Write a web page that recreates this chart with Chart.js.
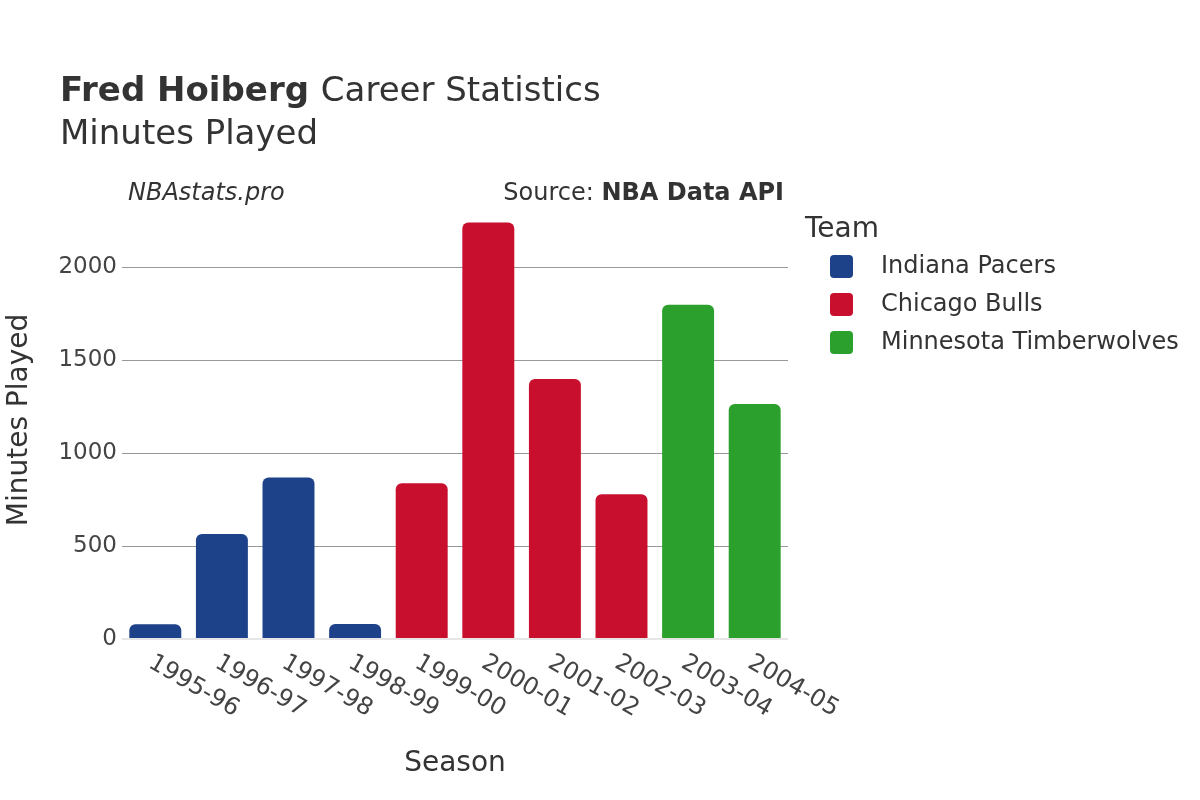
<!DOCTYPE html>
<html>
<head>
<meta charset="utf-8">
<script src="https://cdn.jsdelivr.net/npm/chart.js@4"></script>
<style>
  html, body { margin: 0; padding: 0; background: #fff; }
  #wrap { width: 1200px; height: 800px; }
</style>
</head>
<body>
<div id="wrap"><canvas id="myChart" width="1200" height="800"></canvas></div>
<script>
// Dados
var seasons = ['1995-96', '1996-97', '1997-98', '1998-99', '1999-00',
               '2000-01', '2001-02', '2002-03', '2003-04', '2004-05'];
var teams = ['Indiana Pacers', 'Chicago Bulls', 'Minnesota Timberwolves'];
var pacers = [79, 565, 869, 81, null, null, null, null, null, null];
var bulls = [null, null, null, null, 837, 2240, 1398, 778, null, null];
var wolves = [null, null, null, null, null, null, null, null, 1797, 1263];
var yTicks = [0, 500, 1000, 1500, 2000];

var colors = ['#1d428a', '#c8102e', '#2ca02c'];
var font = '"DejaVu Sans", sans-serif';
var textColor = '#444';

// Plugin para textos do cabeçalho, legenda e rótulos do eixo x
var extras = {
    id: 'extras',
    afterDraw: function (chart) {
        var c = chart.ctx;
        var xs = chart.scales.x;
        c.save();
        c.fillStyle = '#333';
        c.textBaseline = 'alphabetic';
        c.textAlign = 'left';
        c.font = 'bold 34px ' + font;
        c.fillText('Fred Hoiberg', 60, 101);
        var w = c.measureText('Fred Hoiberg ').width;
        c.font = '34px ' + font;
        c.fillText('Career Statistics', 60 + w, 101);
        c.fillText('Minutes Played', 60, 144);

        c.fillStyle = '#333';
        c.font = 'italic 24px ' + font;
        c.fillText('NBAstats.pro', 128, 200);
        c.textAlign = 'right';
        c.font = 'bold 24px ' + font;
        c.fillText('NBA Data API', 784, 200);
        var w2 = c.measureText('NBA Data API').width;
        c.font = '24px ' + font;
        c.fillText('Source: ', 784 - w2, 200);

        // legenda
        c.textAlign = 'left';
        c.font = '28px ' + font;
        c.fillText('Team', 805, 237);
        c.font = '24px ' + font;
        teams.forEach(function (t, i) {
            var y = 266 + i * 38;
            c.fillStyle = colors[i];
            c.beginPath();
            c.roundRect(830, y - 11, 23, 23, 4);
            c.fill();
            c.fillStyle = '#333';
            c.textBaseline = 'middle';
            c.fillText(t, 881, y + 1);
        });

        // títulos dos eixos
        c.textAlign = 'center';
        c.textBaseline = 'alphabetic';
        c.font = '28px ' + font;
        c.fillText('Season', 455, 771);
        c.save();
        c.translate(27, 420);
        c.rotate(-Math.PI / 2);
        c.fillText('Minutes Played', 0, 0);
        c.restore();

        // rótulos do eixo x rotacionados
        c.font = '24px ' + font;
        c.fillStyle = textColor;
        c.textAlign = 'left';
        c.textBaseline = 'middle';
        seasons.forEach(function (s, i) {
            var x = xs.getPixelForValue(i);
            c.save();
            c.translate(x - 5, 661);
            c.rotate(Math.PI / 6);
            c.fillText(s, 0, 0);
            c.restore();
        });
        c.restore();
    }
};

var datasets = [pacers, bulls, wolves].map(function (d, i) {
    return {
        label: teams[i],
        data: d,
        backgroundColor: colors[i],
        borderRadius: 6,
        barPercentage: 0.78,
        categoryPercentage: 1
    };
});

var ctx = document.getElementById('myChart').getContext('2d');
var myChart = new Chart(ctx, {
    type: 'bar',
    data: { labels: seasons, datasets: datasets },
    options: {
        responsive: false,
        animation: false,
        layout: { padding: { left: 0, top: 201, right: 412, bottom: 0 } },
        plugins: { legend: { display: false }, tooltip: { enabled: false } },
        scales: {
            x: {
                stacked: true,
                grid: { display: false },
                border: { display: false },
                ticks: { display: false },
                afterFit: function (s) { s.height = 161; }
            },
            y: {
                stacked: true,
                min: 0,
                max: 2355,
                afterBuildTicks: function (s) {
                    s.ticks = yTicks.map(function (v) { return { value: v }; });
                },
                afterFit: function (s) { s.width = 122; },
                border: { display: false },
                grid: {
                    drawTicks: false,
                    color: function (c) { return c.tick.value === 0 ? '#e6e6e6' : '#999'; },
                    lineWidth: function (c) { return c.tick.value === 0 ? 2 : 1; }
                },
                ticks: {
                    padding: 5,
                    color: textColor,
                    font: { family: font, size: 23 },
                    callback: function (v) { return String(v); }
                }
            }
        }
    },
    plugins: [extras]
});
</script>
</body>
</html>
